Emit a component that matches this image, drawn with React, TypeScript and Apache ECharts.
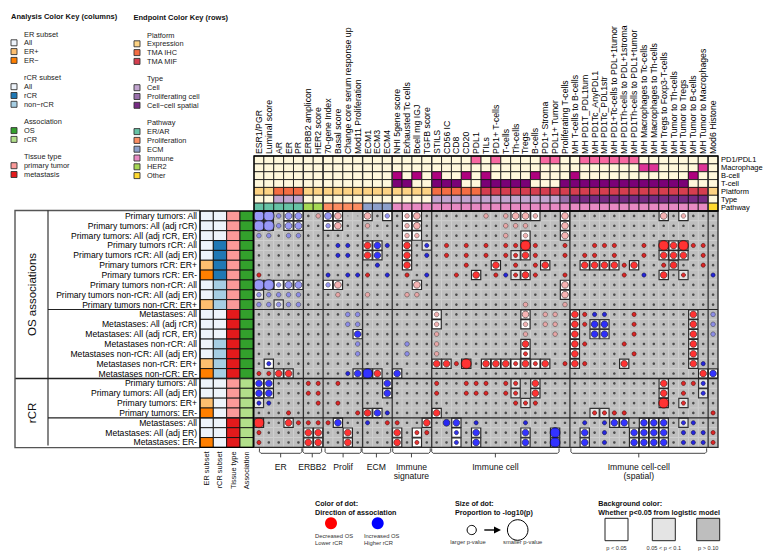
import React, { useEffect, useRef } from "react";
import * as echarts from "echarts";

// ---------------- DATA ----------------
const colNames = [
  "ESR1/PGR", "Luminal score", "AR", "ER", "PR",
  "ERBB2 amplicon", "HER2 score",
  "70-gene Index", "Basal score", "Change core serum response up", "Mod11 Proliferation",
  "ECM1", "ECM3", "ECM4",
  "NHI 5gene score", "Exhausted Tc cells", "Bcell mg IGJ", "TGFB score",
  "STILS", "CD56 IC", "CD8", "CD20", "PDL1", "TILs", "PD1+ T-cells", "T-cells", "Th-cells", "Tregs", "B-cells", "PD1+ Stroma", "PDL1+ Tumor", "Proliferating T-cells",
  "MH T-cells to B-cells", "MH PD1T_PDL1tum", "MH PD1Tc_AnyPDL1", "MH PD1Tc_PDL1str", "MH PD1+Tc-cells to PDL+1tumor", "MH PD1Th-cells to PDL+1stroma", "MH PD1Th-cells to PDL1+tumor", "MH Macrophages to Tc-cells", "MH Macrophages to Th-cells", "MH Tregs to Foxp3-T-cells", "MH Tumor to Th-cells", "MH Tumor to Tregs", "MH Tumor to B-cells", "MH Tumor to Macrophages",
  "Mod6 Histone",
];
// column groups: ER | ERBB2 | Prolif | ECM | Immune signature | Immune cell | Immune cell-cell | Other
const GROUP_SIZES = [5, 2, 4, 3, 4, 14, 14, 1];

const rowLabels = [
  "Primary tumors: All", "Primary tumors: All (adj rCR)", "Primary tumors: All (adj rCR, ER)",
  "Primary tumors rCR: All", "Primary tumors rCR: All (adj ER)", "Primary tumors rCR: ER+", "Primary tumors rCR: ER-",
  "Primary tumors non-rCR: All", "Primary tumors non-rCR: All (adj ER)", "Primary tumors non-rCR: ER+",
  "Metastases: All", "Metastases: All (adj rCR)", "Metastases: All (adj rCR, ER)",
  "Metastases non-rCR: All", "Metastases non-rCR: All (adj ER)", "Metastases non-rCR: ER+", "Metastases non-rCR: ER-",
  "Primary tumors: All", "Primary tumors: All (adj ER)", "Primary tumors: ER+", "Primary tumors: ER-",
  "Metastases: All", "Metastases: All (adj ER)", "Metastases: ER-",
];
const erSubset = ["All", "All", "All", "All", "All", "ER+", "ER-", "All", "All", "ER+", "All", "All", "All", "All", "All", "ER+", "ER-", "All", "All", "ER+", "ER-", "All", "All", "ER-"];
const rcrSubset = ["All", "All", "All", "rCR", "rCR", "rCR", "rCR", "non-rCR", "non-rCR", "non-rCR", "All", "All", "All", "non-rCR", "non-rCR", "non-rCR", "non-rCR", "All", "All", "All", "All", "All", "All", "All"];
const tissueType = ["primary", "primary", "primary", "primary", "primary", "primary", "primary", "primary", "primary", "primary", "metastasis", "metastasis", "metastasis", "metastasis", "metastasis", "metastasis", "metastasis", "primary", "primary", "primary", "primary", "metastasis", "metastasis", "metastasis"];
const association = ["OS", "OS", "OS", "OS", "OS", "OS", "OS", "OS", "OS", "OS", "OS", "OS", "OS", "OS", "OS", "OS", "OS", "rCR", "rCR", "rCR", "rCR", "rCR", "rCR", "rCR"];
const leftAnnotNames = ["ER subset", "rCR subset", "Tissue type", "Association"];

// column annotations (grouped like the columns)
const annotRowNames = ["PD1/PDL1", "Macrophage", "B-cell", "T-cell", "Platform", "Type", "Pathway"];
const pd1Flags = "00000 00 0000 000 0000 00001010000110 01111110000000 0";
const macroFlags = "00000 00 0000 000 0000 00000000000000 00000001100001 0";
const bcellFlags = "00000 00 0000 000 1010 10010100001000 10000000000010 0";
const tcellFlags = "00000 00 0000 000 1100 11100111110001 11111111111100 0";
const platform = "EEIII EE EEEE EEE EEEE IIIIIMMMMMMMMM MMMMMMMMMMMMMM E"; // E expression, I TMA IHC, M TMA MIF
const cellType = "--CCC -- ---- --- ---- CCCCCCCCCCCCCP SSSSSSSSSSSSSS -"; // C cell, P proliferating, S cell-cell
const pathway = "AAAAA HH PPPP EEE IIII IIIIIIIIIIIIII IIIIIIIIIIIIII O";

// dot class per cell: '-' faint, '.' tiny, r/b small red/blue, p/l small light red/blue,
// R/B/P/L medium, X/Y/M large (red = decreased OS / lower rCR, blue = increased OS / higher rCR)
const dotRows = [
  "MMlLL .p LP-- P.l .pP. .....p.pPPp..P .........P.p.. .",
  "MMlLL .. lP.. p.. .pP. .......ppp...P .............. .",
  "ll.ll .. .... ... .pp. .......p.p...P .............. .",
  "..... .. .bb. RBb .R.b .r.r.r.rrXr..r ..rrr..r.XRXrr .",
  "..... .. .bb. RB. .R.b .r.r.r.rrRr..r .rr.r..r.RRR.r .",
  "..... .. .... .b. .R.. ...r..R.r.rR.. .RRRRrR..rR..r .",
  "r.... .. b.bb r.b .r.b ..r.R.rbrRr..r .....r.b.R.r.. b",
  "MMlLL .. lP.. ... ..P. .............P .............. .",
  "lllll .. .p.. p.. .pp. .............P .............. .",
  "lllll .. .... ... .... .........p...p .............. .",
  "..... .. ..ll ... .... p........P.pp. Rrbb..r.....R. l",
  "..... .. ..ll ... .... p........p.pp. RrBB..r.....R. l",
  "..... .. ...B ... .... p........p..p. R.BB..r.....R. l",
  "..... .. ...l ... .l.. p........R.... Rr...r......R. .",
  "..... .. ...l ... .l.. p........r.... R.....r.....R. .",
  ".b... .. .... ... .... RRrX.RRRrRrR.r Rr...R......Rb .",
  "rrRR. .. ..bB YR. B... .............. .............R B",
  "BB... rr .r.. ..B .... r..rrr.rr.R... .........R.rrb .",
  "BB... rr .... ..B .... r..rrr.rr.R... .........R.r.b .",
  "bb... .r .r.. ... .... ........rrr... .........X.r.. .",
  "...r. .. ...r RBb .... R............. ..rrrr........ r",
  "X..Rr rr rB.. b.r r..R .BB.b....b.... .b.bBB.BBB.bb. .",
  "r.... RR ..R. ... R.rr ..b.B....B..Y. .B.b..BBBB.bbb r",
  "r.... RR ..R. ... R.r. ..b.B....B..Y. .B.b..BBBB.bbb r",
];
// background: 0 p>0.10, 1 0.05<p<0.1, 2 p<0.05
const bgRows = [
  "22022 00 2200 202 0220 00000000222002 00000000020200 0",
  "22022 00 2200 000 0220 00000000000002 00000000000000 0",
  "00000 00 0000 000 0220 00000000020002 00000000000000 0",
  "00000 00 0000 220 0201 00000000020000 00000000022200 0",
  "00000 00 0000 220 0200 00000000120000 00000000022200 0",
  "00000 00 0000 000 0200 00000020000200 02222020001000 0",
  "00000 00 0000 000 0000 00002000120000 00000000020100 0",
  "22222 00 2200 000 0020 00000000000002 00000000000000 0",
  "10000 00 0000 000 0000 00000000000002 00000000000000 0",
  "00100 00 0000 000 0000 00000000000000 00000000000000 0",
  "00000 00 0000 000 0000 20000000020000 20000000000020 0",
  "00000 00 0000 000 0000 20000000020000 20110000000020 0",
  "00000 00 0002 000 0000 00000000000000 20110000000020 0",
  "00000 00 0000 000 0000 00000000020000 20000000000020 0",
  "00000 00 0000 000 0000 00000000020000 20000000000020 0",
  "02000 00 0000 000 0000 22020222222200 20000200000020 0",
  "00220 00 0002 220 2000 00000000000000 00000000000002 2",
  "22000 00 0000 002 0000 00000000102000 00000000020001 0",
  "22000 00 0000 002 0000 00000000102000 00000000020001 0",
  "10000 00 0000 000 0000 00000000010000 00000000020100 0",
  "00000 00 0000 120 0000 20000000000000 00110000000000 0",
  "20020 00 0200 000 0002 00200000000000 00002202220100 0",
  "00000 22 0020 000 2020 00202000020020 02000022220000 0",
  "00000 22 0020 000 2020 00202000020020 02000022220000 0",
];

const brackets = [
  { label: ["ER"], from: 0.55, to: 4.85 },
  { label: ["ERBB2"], from: 4.95, to: 6.85 },
  { label: ["Prolif"], from: 7.2, to: 10.85 },
  { label: ["ECM"], from: 10.95, to: 13.85 },
  { label: ["Immune", "signature"], from: 14.05, to: 17.85 },
  { label: ["Immune cell"], from: 18.0, to: 30.9 },
  { label: ["Immune cell-cell", "(spatial)"], from: 32.1, to: 45.85 },
];
const colBreaks = [5, 7, 11, 14, 18, 32, 46];
const rowBreaks = [10, 17, 21];

// ---------------- COLOURS ----------------
const ALL_C = "#EEF4FB";
const NA_C = "#FFF8DC";
const erColor: Record<string, string> = { All: ALL_C, "ER+": "#FDBF6F", "ER-": "#FF7F00" };
const rcrColor: Record<string, string> = { All: ALL_C, rCR: "#1F78B4", "non-rCR": "#A6CEE3" };
const tissueColor: Record<string, string> = { primary: "#FB9A99", metastasis: "#E31A1C" };
const assocColor: Record<string, string> = { OS: "#33A02C", rCR: "#B2DF8A" };
const flagColors = ["#F768A1", "#DD3497", "#AE017E", "#7A0177"];
const platformColor: Record<string, string> = { E: "#FDD384", I: "#F46D43", M: "#D53E4F" };
const typeColor: Record<string, string> = { "-": NA_C, C: "#C2A5CF", P: "#9970AB", S: "#762A83" };
const pathwayColor: Record<string, string> = { A: "#66C2A5", H: "#A6D854", P: "#FC8D62", E: "#8DA0CB", I: "#E78AC3", O: "#FFD92F" };

const DOT: Record<string, [number, string, string, number]> = {
  "-": [1.6, "#8a8a8a", "#8a8a8a", 0],
  ".": [2.6, "#2e2e2e", "#2e2e2e", 0],
  r: [4.2, "#E00000", "#2a0000", 0.6],
  b: [4.2, "#0000E0", "#00002a", 0.6],
  p: [4.6, "#F2A0A0", "#333333", 0.6],
  l: [4.6, "#8080F0", "#333333", 0.6],
  R: [6.8, "#FF0000", "#1a1a1a", 0.7],
  B: [6.8, "#0000FF", "#1a1a1a", 0.7],
  P: [6.8, "#F4A0A0", "#1a1a1a", 0.7],
  L: [7, "#8080F2", "#1a1a1a", 0.7],
  X: [10, "#FF0000", "#1a1a1a", 0.8],
  Y: [10, "#0000FF", "#1a1a1a", 0.8],
  M: [10.6, "#7F7FF4", "#1a1a1a", 0.8],
};

// ---------------- LAYOUT ----------------
const FONT = "'Liberation Sans', Arial, Helvetica, sans-serif";
const GL = 254, GT = 211, GW = 464, GH = 236.4;
const NC = 47, NR = 24;
const CW = GW / NC, RH = GH / NR;
const AT = 156, AH = 55;
const LL = 200, LW = 53.3;

function parseGroups(s: string, dflt: string): string[] {
  const parts = s.trim().split(/\s+/);
  const out: string[] = [];
  GROUP_SIZES.forEach((n, g) => {
    const p = parts[g] || "";
    for (let i = 0; i < n; i++) out.push(p[i] !== undefined ? p[i] : dflt);
  });
  return out;
}

type Cell = { c: number; r: number; fill: string; stroke: string; lw: number; inset: number };

function rectSeries(cells: Cell[], xi: number, yi: number, z: number) {
  return {
    type: "custom",
    xAxisIndex: xi,
    yAxisIndex: yi,
    z,
    silent: true,
    encode: { x: 0, y: 1 },
    data: cells.map((d) => [d.c, d.r]),
    renderItem: (params: any, api: any) => {
      const d = cells[params.dataIndex];
      const p = api.coord([api.value(0), api.value(1)]);
      const s = api.size([1, 1]);
      return {
        type: "rect",
        shape: { x: p[0] - s[0] / 2 + d.inset, y: p[1] - s[1] / 2 + d.inset, width: s[0] - 2 * d.inset, height: s[1] - 2 * d.inset },
        style: { fill: d.fill, stroke: d.stroke, lineWidth: d.lw },
      };
    },
  };
}

function txt(x: number, y: number, text: string, o: any = {}) {
  return {
    type: "text",
    x, y, z: 60, silent: true,
    rotation: o.rot || 0,
    style: {
      text, fill: o.fill || "#111", fontSize: o.size || 7.4, fontFamily: FONT,
      fontWeight: o.bold ? "bold" : "normal", align: o.align || "left", verticalAlign: o.va || "middle",
    },
  };
}
function line(x1: number, y1: number, x2: number, y2: number, stroke = "#222", lw = 1) {
  return { type: "line", z: 55, silent: true, shape: { x1, y1, x2, y2 }, style: { stroke, lineWidth: lw } };
}

function buildOption() {
  // main backgrounds
  const bgCells: Cell[] = [];
  const dots: any[] = [];
  for (let r = 0; r < NR; r++) {
    const bg = parseGroups(bgRows[r], "0");
    const dt = parseGroups(dotRows[r], ".");
    for (let c = 0; c < NC; c++) {
      const lvl = bg[c];
      if (lvl === "2") bgCells.push({ c, r, fill: "#FFFFFF", stroke: "#262626", lw: 1.2, inset: 0.3 });
      else if (lvl === "1") bgCells.push({ c, r, fill: "#E4E4E4", stroke: "#333333", lw: 1.2, inset: 0.3 });
      else bgCells.push({ c, r, fill: "#BEBEBE", stroke: "#D2D2D2", lw: 0.6, inset: 0 });
      const st = DOT[dt[c]] || DOT["."];
      dots.push({
        value: [c, r],
        symbolSize: st[0],
        itemStyle: { color: st[1], borderColor: st[2], borderWidth: st[3] },
      });
    }
  }
  const order = (f: string) => (f === "#BEBEBE" ? 0 : 1);
  bgCells.sort((a, b) => order(a.fill) - order(b.fill));

  // top annotation
  const annotCells: Cell[] = [];
  const flagRows = [pd1Flags, macroFlags, bcellFlags, tcellFlags].map((s) => parseGroups(s, "0"));
  const plat = parseGroups(platform, "E");
  const typ = parseGroups(cellType, "-");
  const path = parseGroups(pathway, "I");
  for (let c = 0; c < NC; c++) {
    const colors = [
      ...flagRows.map((f, i) => (f[c] === "1" ? flagColors[i] : NA_C)),
      platformColor[plat[c]] || NA_C,
      typeColor[typ[c]] || NA_C,
      pathwayColor[path[c]] || NA_C,
    ];
    colors.forEach((fill, r) => annotCells.push({ c, r, fill, stroke: "#111", lw: 0.8, inset: 0 }));
  }

  // left annotation
  const leftCells: Cell[] = [];
  for (let r = 0; r < NR; r++) {
    [erColor[erSubset[r]], rcrColor[rcrSubset[r]], tissueColor[tissueType[r]], assocColor[association[r]]].forEach((fill, c) =>
      leftCells.push({ c, r, fill, stroke: "#111", lw: 0.9, inset: 0 })
    );
  }

  // ---------- graphics ----------
  const g: any[] = [];
  // column labels (vertical, reading upwards from just above the annotation block)
  colNames.forEach((name, c) => {
    g.push(txt(GL + (c + 0.5) * CW, AT - 2, name, { size: 8.7, rot: Math.PI / 2, align: "left", fill: "#000" }));
  });
  // group separators
  colBreaks.forEach((b) => g.push(line(GL + b * CW, AT, GL + b * CW, GT + GH, "#303030", 1.3)));
  rowBreaks.forEach((b) => {
    const y = GT + b * RH;
    g.push(line(b === 17 ? 15 : 48, y, GL + GW, y, "#222", b === 17 ? 1.4 : 1.2));
  });
  // borders
  g.push({ type: "rect", z: 56, silent: true, shape: { x: GL, y: GT, width: GW, height: GH }, style: { fill: null, stroke: "#2a2a2a", lineWidth: 1.3 } });
  g.push({ type: "rect", z: 56, silent: true, shape: { x: GL, y: AT, width: GW, height: AH }, style: { fill: null, stroke: "#000", lineWidth: 1.3 } });
  g.push({ type: "rect", z: 56, silent: true, shape: { x: LL, y: GT, width: LW, height: GH }, style: { fill: null, stroke: "#000", lineWidth: 1.2 } });
  // label box
  g.push({ type: "polyline", z: 55, silent: true, shape: { points: [[LL, 210.5], [15, 210.5], [15, 447.6], [LL, 447.6]] }, style: { stroke: "#555", lineWidth: 1.4, fill: null } });
  g.push(line(48, 210.5, 48, 445.5, "#222", 1.1));
  g.push(txt(32, (210.5 + GT + 17 * RH) / 2, "OS associations", { size: 11.5, rot: Math.PI / 2, align: "center" }));
  g.push(txt(32, (GT + 17 * RH + GT + GH) / 2, "rCR", { size: 11.5, rot: Math.PI / 2, align: "center" }));

  // brackets
  brackets.forEach((bk) => {
    const x1 = GL + bk.from * CW, x2 = GL + bk.to * CW, xm = (x1 + x2) / 2;
    g.push({
      type: "polyline", z: 55, silent: true,
      shape: { points: [[x1, 448.3], [x1, 451.8], [x1 + 1.5, 453.3], [x2 - 1.5, 453.3], [x2, 451.8], [x2, 448.3]] },
      style: { stroke: "#333", lineWidth: 0.9, fill: null },
    });
    g.push(line(xm, 453.3, xm, 457.4, "#333", 0.9));
    bk.label.forEach((t, i) => g.push(txt(xm, 466.7 + i * 9.6, t, { size: 8.6, align: "center" })));
  });

  // top-left legends
  g.push(txt(11, 16.7, "Analysis Color Key (columns)", { size: 7.5, bold: true }));
  g.push(txt(133.5, 17, "Endpoint Color Key (rows)", { size: 7.5, bold: true }));
  const legendLeft = [
    { title: "ER subset", items: [["All", ALL_C], ["ER+", "#FDBF6F"], ["ER\u2212", "#FF7F00"]] },
    { title: "rCR subset", items: [["All", ALL_C], ["rCR", "#1F78B4"], ["non\u2212rCR", "#A6CEE3"]] },
    { title: "Association", items: [["OS", "#33A02C"], ["rCR", "#B2DF8A"]] },
    { title: "Tissue type", items: [["primary tumor", "#FB9A99"], ["metastasis", "#E31A1C"]] },
  ];
  const legendRight = [
    { title: "Platform", items: [["Expression", platformColor.E], ["TMA IHC", platformColor.I], ["TMA MIF", platformColor.M]] },
    { title: "Type", items: [["Cell", typeColor.C], ["Proliferating cell", typeColor.P], ["Cell\u2212cell spatial", typeColor.S]] },
    {
      title: "Pathway",
      items: [["ER/AR", pathwayColor.A], ["Proliferation", pathwayColor.P], ["ECM", pathwayColor.E], ["Immune", pathwayColor.I], ["HER2", pathwayColor.H], ["Other", pathwayColor.O]],
    },
  ];
  const buildLegend = (sections: any[], boxX: number, textX: number, y0: number) => {
    let y = y0;
    sections.forEach((s) => {
      g.push(txt(textX, y, s.title, { size: 7.4, fill: "#222" }));
      s.items.forEach((it: string[]) => {
        y += 8.8;
        g.push({ type: "rect", z: 60, silent: true, shape: { x: boxX, y: y - 3, width: 6, height: 6 }, style: { fill: it[1], stroke: "#333", lineWidth: 0.9 } });
        g.push(txt(textX, y, it[0], { size: 7.4, fill: "#222" }));
      });
      y += 17.5;
    });
  };
  buildLegend(legendLeft, 11, 24, 34);
  buildLegend(legendRight, 134, 147, 35);

  // bottom legends
  g.push(txt(315, 503.3, "Color of dot:", { size: 7.2, bold: true }));
  g.push(txt(315, 512.3, "Direction of association", { size: 7.2, bold: true }));
  g.push({ type: "circle", z: 60, silent: true, shape: { cx: 331, cy: 523.3, r: 6 }, style: { fill: "#FF0000" } });
  g.push({ type: "circle", z: 60, silent: true, shape: { cx: 377.7, cy: 523.3, r: 6 }, style: { fill: "#0000FF" } });
  g.push(txt(315, 536.3, "Decreased OS", { size: 5.8, fill: "#333" }));
  g.push(txt(315, 543.2, "Lower rCR", { size: 5.8, fill: "#333" }));
  g.push(txt(364, 536.3, "Increased OS", { size: 5.8, fill: "#333" }));
  g.push(txt(364, 543.2, "Higher rCR", { size: 5.8, fill: "#333" }));

  g.push(txt(455, 503.3, "Size of dot:", { size: 7.2, bold: true }));
  g.push(txt(455, 512.3, "Proportion to -log10(p)", { size: 7.2, bold: true }));
  g.push({ type: "circle", z: 60, silent: true, shape: { cx: 471.7, cy: 530, r: 4.6 }, style: { fill: "#fff", stroke: "#000", lineWidth: 1 } });
  g.push(line(484.3, 530, 495, 530, "#000", 1.4));
  g.push({ type: "polygon", z: 60, silent: true, shape: { points: [[494, 526.6], [501, 530], [494, 533.4]] }, style: { fill: "#000" } });
  g.push({ type: "circle", z: 60, silent: true, shape: { cx: 517.7, cy: 530, r: 10.3 }, style: { fill: "#fff", stroke: "#000", lineWidth: 1 } });
  g.push(txt(468, 541.5, "larger p-value", { size: 5.8, align: "center", fill: "#333" }));
  g.push(txt(522.7, 541.5, "smaller p-value", { size: 5.8, align: "center", fill: "#333" }));

  g.push(txt(598.3, 503.3, "Background color:", { size: 7.2, bold: true }));
  g.push(txt(598.3, 512.3, "Whether p<0.05 from logistic model", { size: 7.2, bold: true }));
  const sq = [
    [605, "#FFFFFF", "p < 0.05"],
    [652.3, "#E4E4E4", "0.05 < p < 0.1"],
    [696.7, "#BEBEBE", "p > 0.10"],
  ] as [number, string, string][];
  sq.forEach(([x, fill, label]) => {
    g.push({ type: "rect", z: 60, silent: true, shape: { x, y: 518.3, width: 23, height: 22.4 }, style: { fill, stroke: "#222", lineWidth: 1 } });
    g.push(txt(x + 11.5, 548, label, { size: 5.6, align: "center", fill: "#333" }));
  });

  const rowIds = rowLabels.map((_, i) => "r" + i);
  const hidden = { show: false };

  return {
    animation: false,
    backgroundColor: "#ffffff",
    textStyle: { fontFamily: FONT },
    grid: [
      { left: GL, top: GT, width: GW, height: GH, outerBoundsMode: "none", containLabel: false },
      { left: GL, top: AT, width: GW, height: AH, outerBoundsMode: "none", containLabel: false },
      { left: LL, top: GT, width: LW, height: GH, outerBoundsMode: "none", containLabel: false },
    ],
    xAxis: [
      { gridIndex: 0, type: "category", data: colNames, show: false },
      { gridIndex: 1, type: "category", data: colNames, show: false },
      {
        gridIndex: 2, type: "category", data: leftAnnotNames, position: "bottom",
        axisLine: hidden, axisTick: hidden, splitLine: hidden,
        axisLabel: { rotate: 90, fontSize: 7.4, color: "#111", margin: 4, interval: 0, fontFamily: FONT },
      },
    ],
    yAxis: [
      { gridIndex: 0, type: "category", data: rowIds, inverse: true, show: false },
      {
        gridIndex: 1, type: "category", data: annotRowNames, inverse: true, position: "right",
        axisLine: hidden, axisTick: hidden, splitLine: hidden,
        axisLabel: { fontSize: 7.5, color: "#000", margin: 3, interval: 0, fontFamily: FONT },
      },
      {
        gridIndex: 2, type: "category", data: rowIds, inverse: true, position: "left",
        axisLine: hidden, axisTick: hidden, splitLine: hidden,
        axisLabel: { fontSize: 8.6, color: "#000", margin: 3, interval: 0, fontFamily: FONT, formatter: (_v: string, i: number) => rowLabels[i] },
      },
    ],
    series: [
      rectSeries(bgCells, 0, 0, 1),
      rectSeries(annotCells, 1, 1, 1),
      rectSeries(leftCells, 2, 2, 1),
      {
        type: "scatter", xAxisIndex: 0, yAxisIndex: 0, symbol: "circle", z: 10, silent: true,
        data: dots,
      },
    ],
    graphic: { elements: g },
  };
}

export default function App() {
  const ref = useRef<HTMLDivElement>(null);
  useEffect(() => {
    if (!ref.current) return;
    const chart = echarts.init(ref.current, undefined, { renderer: "svg" });
    chart.setOption(buildOption() as any);
    return () => chart.dispose();
  }, []);
  return (
    <div
      ref={ref}
      style={{ position: "absolute", left: 0, top: 0, width: 767, height: 553, background: "#fff" }}
    />
  );
}
